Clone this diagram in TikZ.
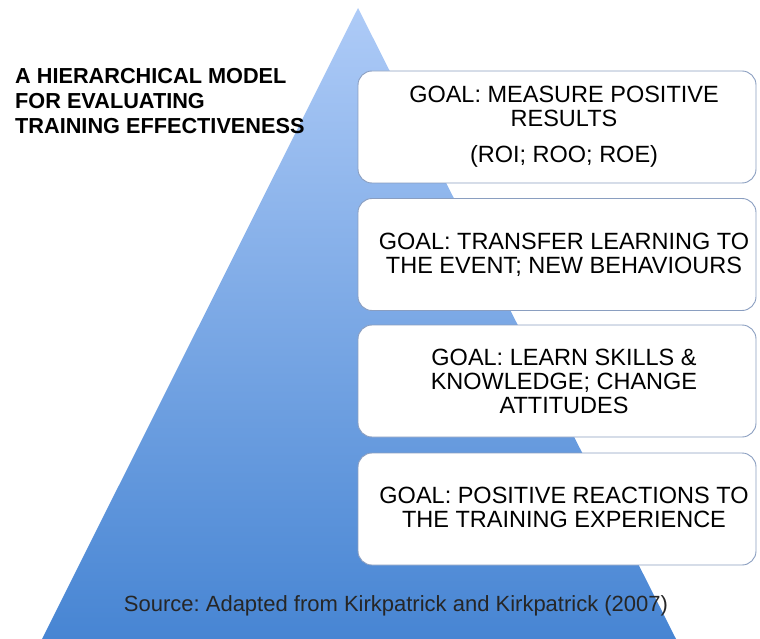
\documentclass[tikz,border=0pt]{standalone}
\usepackage{fontspec}
\setmainfont{Liberation Sans}
\frenchspacing
\begin{document}
\begin{tikzpicture}[x=1pt,y=-1pt,
  goalbox/.style={draw=boxborder,line width=0.9pt,fill=white,rounded corners=14pt,
    minimum width=398pt,minimum height=112pt,inner sep=0pt},
  goaltext/.style={align=center,text=black,font=\fontsize{23.5}{24}\selectfont,inner sep=0pt},
  titletext/.style={align=left,text=black,font=\fontsize{21.7}{25}\selectfont\bfseries,inner sep=0pt,anchor=north west},
  srctext/.style={text=black!85,font=\fontsize{22}{24}\selectfont,inner sep=0pt}]
\definecolor{boxborder}{HTML}{8A9EC0}
\definecolor{triTop}{HTML}{AECBF7}
\definecolor{triBot}{HTML}{4785D3}
\useasboundingbox (0,0) rectangle (760,639);
% pyramid
\shade[top color=triTop,bottom color=triBot] (358,8) -- (676,639) -- (42,639) -- cycle;
% boxes
\node[goalbox] (b1) at (557,127) {};
\node[goalbox] (b2) at (557,254.5) {};
\node[goalbox] (b3) at (557,381) {};
\node[goalbox] (b4) at (557,509) {};
\node[goaltext] (t1) at (564,127) {GOAL: MEASURE POSITIVE\\RESULTS\\[12pt](ROI; ROO; ROE)};
\node[goaltext] (t2) at (564,255) {GOAL: TRANSFER LEARNING TO\\THE EVENT; NEW BEHAVIOURS};
\node[goaltext] (t3) at (564,381) {GOAL: LEARN SKILLS \&\\KNOWLEDGE; CHANGE\\ATTITUDES};
\node[goaltext] (t4) at (564,507) {GOAL: POSITIVE REACTIONS TO\\THE TRAINING EXPERIENCE};
% title
\node[titletext] (title) at (15,68) {A HIERARCHICAL MODEL\\FOR EVALUATING\\TRAINING EFFECTIVENESS};
% source
\node[srctext] (src) at (396,606) {Source: Adapted from Kirkpatrick and Kirkpatrick (2007)};
\end{tikzpicture}
\end{document}
